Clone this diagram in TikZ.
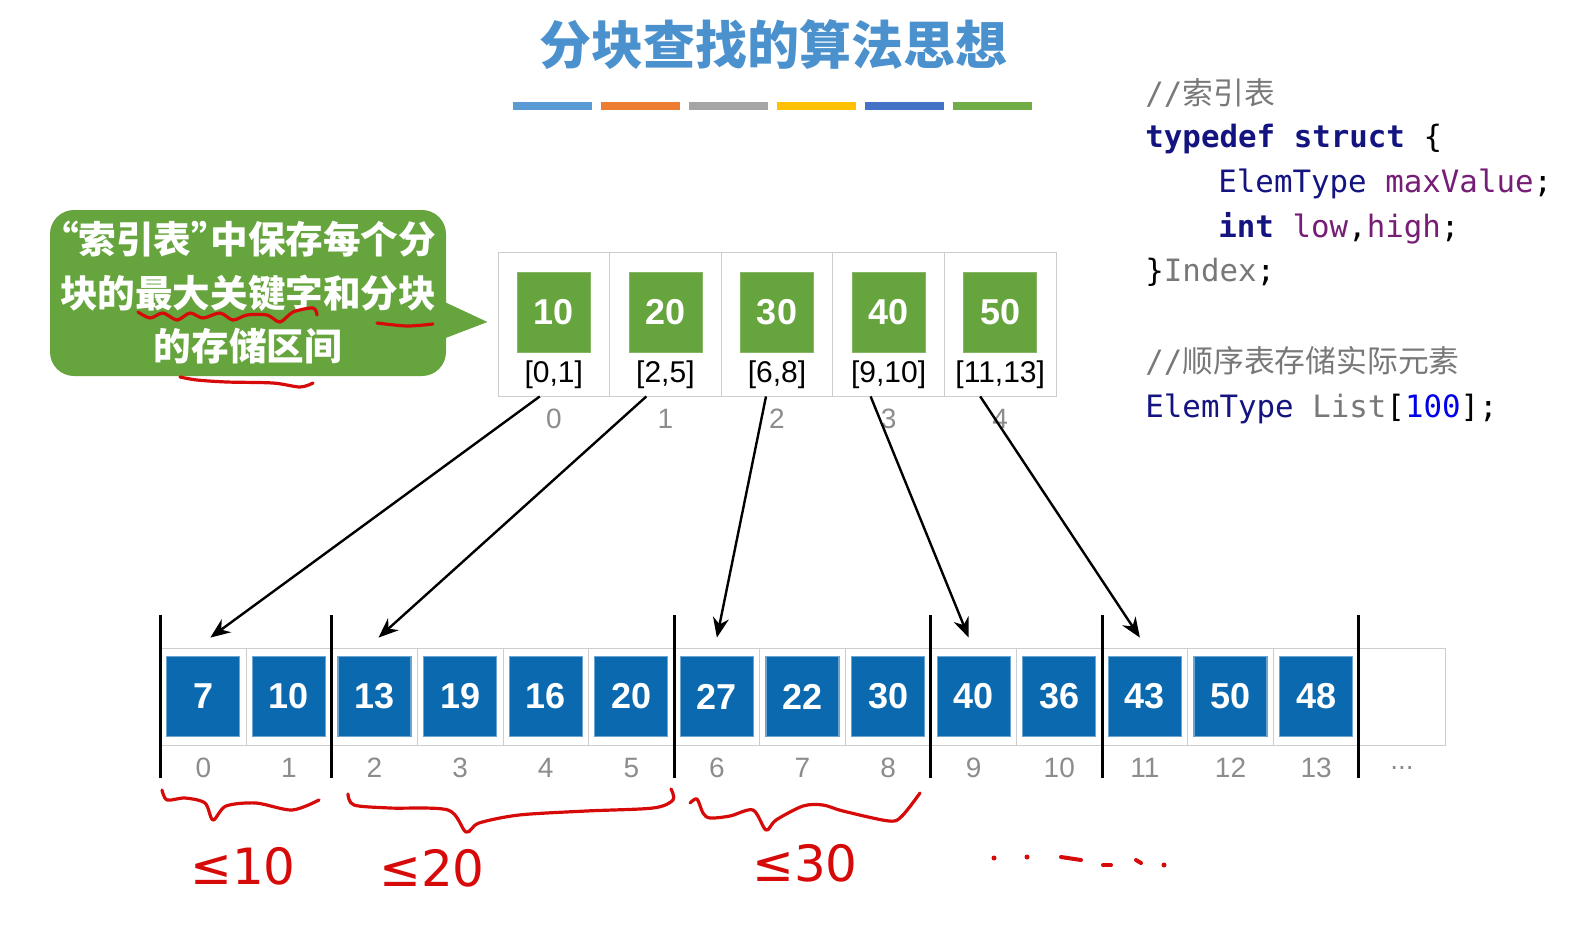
\documentclass[tikz,border=0pt]{standalone}
\usepackage{fontspec}
\usepackage{xcolor}
\setmainfont{Liberation Sans}
\newfontfamily\cjk{Noto Sans CJK SC}
\newfontfamily\codefont{DejaVu Sans Mono}
\newfontfamily\handfont{DejaVu Sans}
\usetikzlibrary{arrows.meta,positioning,calc}
\definecolor{titleblue}{RGB}{75,145,205}
\definecolor{idxgreen}{RGB}{102,164,62}
\definecolor{arrblue}{RGB}{10,105,175}
\definecolor{cellgray}{RGB}{205,205,205}
\definecolor{idxgray}{RGB}{140,140,140}
\definecolor{inkred}{RGB}{215,10,10}
\definecolor{kwnavy}{RGB}{20,20,128}
\definecolor{fldpurple}{RGB}{118,30,118}
\definecolor{cmtgray}{RGB}{120,120,120}
\definecolor{numblue}{RGB}{0,0,235}
\definecolor{barblue}{RGB}{91,155,213}
\definecolor{barorange}{RGB}{237,125,49}
\definecolor{bargray}{RGB}{165,165,165}
\definecolor{baryellow}{RGB}{255,192,0}
\definecolor{bardkblue}{RGB}{68,114,196}
\definecolor{bargreen}{RGB}{112,173,71}
\newcommand{\kw}[1]{{\color{kwnavy}\bfseries #1}}
\newcommand{\ty}[1]{{\color{kwnavy}#1}}
\newcommand{\fld}[1]{{\color{fldpurple}#1}}
\newcommand{\idn}[1]{{\color{cmtgray}#1}}
\newcommand{\openq}{\makebox[0.5em][r]{“}}
\newcommand{\closeq}{\makebox[0.5em][l]{”}}

\begin{document}
\begin{tikzpicture}[x=0.5pt,y=-0.5pt,
    gbox/.style={fill=idxgreen, draw=idxgreen!80!white, text=white, font=\bfseries\fontsize{18pt}{20pt}\selectfont, minimum width=36.5pt, minimum height=40pt, inner sep=0pt},
    bbox/.style={fill=arrblue, draw=arrblue!60!white, line width=0.6pt, text=white, font=\bfseries\fontsize{18pt}{20pt}\selectfont, minimum width=36.5pt, minimum height=40pt, inner sep=0pt},
    icell/.style={draw=cellgray, minimum width=55.8pt, minimum height=72pt, inner sep=0pt},
    acell/.style={draw=cellgray, minimum width=42.8pt, minimum height=48.5pt, inner sep=0pt},
    ivl/.style={font=\fontsize{15pt}{17pt}\selectfont, inner sep=0pt},
    subidx/.style={text=idxgray, font=\fontsize{14pt}{16pt}\selectfont, inner sep=0pt},
    blocksep/.style={line width=1.5pt},
    ptr/.style={line width=1.2pt, -{Stealth[length=10pt,width=8pt]}},
    redink/.style={draw=inkred, line width=1.6pt, line cap=round, line join=round},
    handtxt/.style={text=inkred, font=\handfont\fontsize{25pt}{28pt}\selectfont, inner sep=0pt},
    codeline/.style={anchor=base west, inner sep=0pt, font=\codefont\fontsize{15.4pt}{18pt}\selectfont},
    note/.style={fill=idxgreen, rounded corners=12pt, text=white, align=center, minimum width=198pt, minimum height=83pt, inner sep=0pt, font=\cjk\bfseries\fontsize{18.8pt}{26.75pt}\selectfont}]
    \useasboundingbox (0,0) rectangle (1580,934);

    % Title and colour bars
    \node[text=titleblue, font=\cjk\bfseries\fontsize{26pt}{30pt}\selectfont] (title) at (773,45) {分块查找的算法思想};
    \foreach \c [count=\i from 0] in {barblue,barorange,bargray,baryellow,bardkblue,bargreen}
        \fill[\c] ({513+88*\i},102) rectangle ++(79,8);

    % Callout
    \node[note] (note) at (248,293) {\openq 索引表\closeq 中保存每个分\\块的最大关键字和分块\\的存储区间};
    \fill[idxgreen] ($(note.east)+(-6,7)$) -- ($(note.east)+(41,29)$) -- ($(note.east)+(-6,47)$) -- cycle;

    % Index table
    \foreach \v/\r [count=\i from 0] in {10/{[0,1]},20/{[2,5]},30/{[6,8]},40/{[9,10]},50/{[11,13]}} {
        \node[icell] (ic\i) at ({553.8+111.6*\i},324) {};
        \node[gbox] (g\i) at ({553.8+111.6*\i},312) {\v};
        \node[ivl] (r\i) at ({553.8+111.6*\i},375) {\r};
        \node[subidx] (n\i) at ({553.8+111.6*\i},419) {\i};
    }

    % Sequential list
    \foreach \v [count=\i from 0] in {7,10,13,19,16,20,27,22,30,40,36,43,50,48} {
        \node[acell] (a\i) at ({203.3+85.6*\i},696.5) {};
        \node[bbox] (b\i) at (a\i) {\v};
        \node[subidx] (m\i) at ({203.3+85.6*\i},768) {\i};
    }
    \node[acell, minimum width=43pt] (tail) at (1402,696.5) {};
    \node[subidx] (dots) at (1402,768) {...};

    % Block boundaries
    \foreach \k in {0,2,6,9,11,14}
        \draw[blocksep] ({160.5+85.6*\k},615) -- ({160.5+85.6*\k},778);

    % Pointers from index to block start
    \foreach \s/\t/\ds/\dt in {0/0/-14/7,1/2/-19/4,2/6/-11/0,3/9/-18/-5,4/11/-20/-5}
        \draw[ptr] ($(ic\s.south)+(\ds,0)$) -- ($(a\t.north)+(\dt,-10)$);

    % Code
    \node[codeline] (code1) at (1145,104) {\idn{//{\cjk 索引表}}};
    \node[codeline] (code2) at (1145,147) {\kw{typedef} \kw{struct} \{};
    \node[codeline] (code3) at (1218,192) {\ty{ElemType} \fld{maxValue};};
    \node[codeline] (code4) at (1218,237) {\kw{int} \fld{low},\fld{high};};
    \node[codeline] (code5) at (1145,281) {\}\idn{Index};};
    \node[codeline] (code6) at (1145,372) {\idn{//{\cjk 顺序表存储实际元素}}};
    \node[codeline] (code7) at (1145,417) {\ty{ElemType} \idn{List}[{\color{numblue}100}];};

    % Hand marks on the callout
    \draw[redink] plot[smooth] coordinates {(138,312) (150,318) (163,313) (177,320) (190,313) (203,318) (220,313) (233,320) (247,315) (267,315) (280,322) (293,312) (313,308) (317,315)};
    \draw[redink] plot[smooth] coordinates {(377,323) (407,326) (433,324)};
    \draw[redink] plot[smooth] coordinates {(180,377) (197,380) (227,382) (273,383) (300,387) (313,383)};

    % Hand braces
    \draw[redink] plot[smooth] coordinates {(162,790) (167,800) (185,798) (205,803) (213,820) (226,806) (256,803) (292,810) (319,800)};
    \draw[redink] plot[smooth] coordinates {(348,794) (354,805) (390,808) (448,810) (466,832) (479,823) (519,815) (586,811) (653,808) (673,800) (671,789)};
    \draw[redink] plot[smooth] coordinates {(690,803) (697,799) (703,813) (710,818) (730,816) (753,810) (766,830) (776,820) (803,806) (823,805) (843,811) (889,821) (902,816) (920,793)};

    % Hand bounds
    \node[handtxt] (le10) at (243,866) {≤10};
    \node[handtxt] (le20) at (432,868) {≤20};
    \node[handtxt] (le30) at (805,863) {≤30};
    \foreach \p in {(994,858),(1027,857),(1164,865)}
        \fill[inkred] \p circle (2.5);
    \draw[redink, line width=2pt] (1061,857) -- (1081,860);
    \draw[redink, line width=2pt] (1103,865) -- (1111,865);
    \draw[redink, line width=2pt] (1136,860) -- (1141,863);
\end{tikzpicture}
\end{document}
